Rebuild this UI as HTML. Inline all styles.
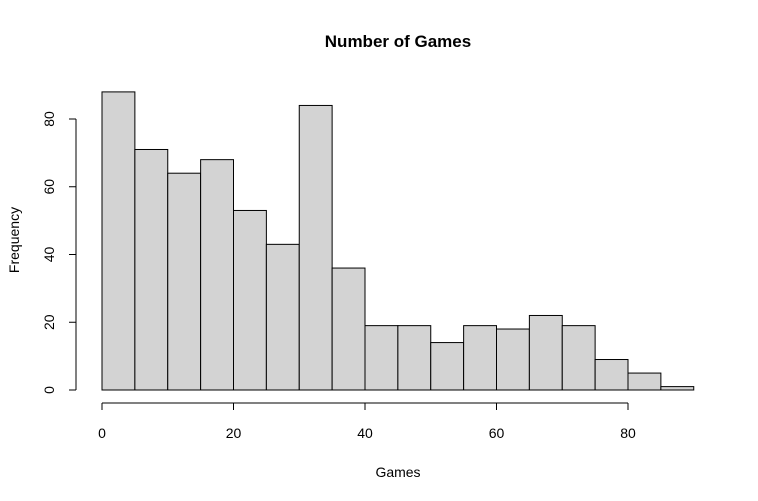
<!DOCTYPE html>
<html><head><meta charset="utf-8"><style>
body{margin:0;background:#fff}
svg{display:block;font-family:"Liberation Sans",Arial,sans-serif}
</style></head><body>
<svg id="chart" width="758" height="501" viewBox="0 0 758 501">
<text x="398" y="47" text-anchor="middle" font-size="17" font-weight="bold">Number of Games</text>
<text x="398" y="477" text-anchor="middle" font-size="14">Games</text>
<text transform="translate(19,240) rotate(-90)" text-anchor="middle" font-size="14">Frequency</text>
<g id="bars"></g>
<g id="xaxis"></g>
<g id="yaxis"></g>
</svg>
<script>
const binStarts=[0,5,10,15,20,25,30,35,40,45,50,55,60,65,70,75,80,85];
const counts=[88,71,64,68,53,43,84,36,19,19,14,19,18,22,19,9,5,1];
const binWidth=5;
const xTicks=[0,20,40,60,80];
const yTicks=[0,20,40,60,80];
const NS='http://www.w3.org/2000/svg';
const X=v=>102+v*6.575;
const Y=v=>390-v*3.3875;
function mk(t,a,p){const e=document.createElementNS(NS,t);for(const k in a)e.setAttribute(k,a[k]);p.appendChild(e);return e;}
const bars=document.getElementById('bars');
binStarts.forEach((s,i)=>{
 const r=mk('rect',{x:X(s),y:Y(counts[i]),width:X(s+binWidth)-X(s),height:Y(0)-Y(counts[i]),fill:'#d3d3d3',stroke:'#000','stroke-width':1},bars);
 
 
});
const xa=document.getElementById('xaxis');
mk('line',{x1:X(xTicks[0]),x2:X(xTicks[xTicks.length-1]),y1:403,y2:403,stroke:'#000'},xa);
xTicks.forEach(t=>{
 mk('line',{x1:X(t),x2:X(t),y1:403,y2:410,stroke:'#000'},xa);
 const l=mk('text',{x:X(t),y:438,'text-anchor':'middle','font-size':14},xa);
 l.textContent=t;
 
 
});
const ya=document.getElementById('yaxis');
mk('line',{x1:76,x2:76,y1:Y(yTicks[0]),y2:Y(yTicks[yTicks.length-1]),stroke:'#000'},ya);
yTicks.forEach(t=>{
 mk('line',{x1:69,x2:76,y1:Y(t),y2:Y(t),stroke:'#000'},ya);
 const l=mk('text',{transform:`translate(54,${Y(t)}) rotate(-90)`,'text-anchor':'middle','font-size':14},ya);
 l.textContent=t;
 
 
});
</script>
</body></html>
